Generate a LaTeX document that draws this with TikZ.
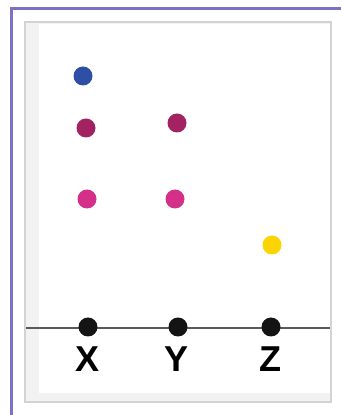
\documentclass[tikz,border=0pt]{standalone}
\usepackage{fontspec}
\setmainfont{Liberation Sans}
\definecolor{framepurple}{HTML}{7B72C2}
\definecolor{panelborder}{HTML}{D3D3D3}
\definecolor{panelstrip}{HTML}{F2F2F2}
\definecolor{axisgray}{HTML}{5A5A5A}
\definecolor{dotblue}{HTML}{2F4FA6}
\definecolor{dotmaroon}{HTML}{A32262}
\definecolor{dotpink}{HTML}{D4308A}
\definecolor{dotyellow}{HTML}{FCD400}
\definecolor{dotblack}{HTML}{141414}
\tikzset{
  dotnode/.style={circle, inner sep=0pt, minimum size=19pt},
  axlabel/.style={font=\fontsize{36}{36}\selectfont\bfseries, inner sep=0pt, anchor=base},
}
\begin{document}
\begin{tikzpicture}[x=1pt,y=1pt]
\useasboundingbox (0,0) rectangle (341,415);
% outer purple frame
\draw[framepurple, line width=3pt] (11,0) -- (11,406) -- (341,406);
% panel
\filldraw[fill=panelstrip, draw=panelborder, line width=2.5pt] (25,13) rectangle (331,393);
\fill[white] (39,22) rectangle (329.5,391);
% axis
\coordinate (axL) at (26,87);
\coordinate (axR) at (330,87);
\draw[axisgray, line width=1.5pt] (axL) -- (axR);
% axis dots
\node[dotnode, fill=dotblack] (bx) at (88,88) {};
\node[dotnode, fill=dotblack] (by) at (178,88) {};
\node[dotnode, fill=dotblack] (bz) at (271,88) {};
% labels
\node[axlabel] (lx) at (88,43) {X};
\node[axlabel] (ly) at (177,43) {Y};
\node[axlabel] (lz) at (270,43) {Z};
% data dots
\node[dotnode, fill=dotblue] (d1) at (83,339) {};
\node[dotnode, fill=dotmaroon] (d2) at (86,287) {};
\node[dotnode, fill=dotmaroon] (d3) at (177,292) {};
\node[dotnode, fill=dotpink] (d4) at (87,216) {};
\node[dotnode, fill=dotpink] (d5) at (175,216) {};
\node[dotnode, fill=dotyellow] (d6) at (272,170) {};
\end{tikzpicture}
\end{document}
